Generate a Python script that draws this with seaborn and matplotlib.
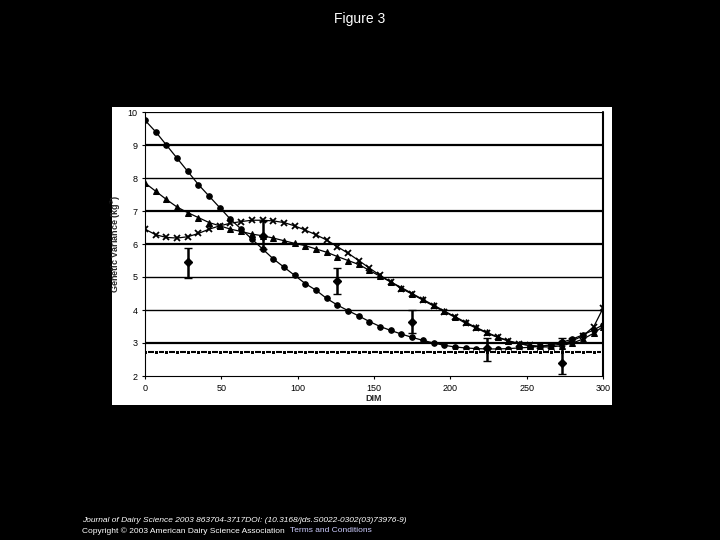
import matplotlib
matplotlib.use("Agg")
import matplotlib.pyplot as plt
import seaborn as sns
import pandas as pd
import numpy as np

dim = [0,7,14,21,28,35,42,49,56,63,70,77,84,91,98,105,112,119,126,133,140,147,154,161,168,175,182,189,196,203,210,217,224,231,238,245,252,259,266,273,280,287,294,300]
circles = [9.75,9.4,9.0,8.6,8.2,7.8,7.45,7.1,6.75,6.45,6.15,5.85,5.55,5.3,5.05,4.8,4.6,4.35,4.15,3.98,3.82,3.65,3.5,3.38,3.27,3.17,3.08,3.0,2.93,2.88,2.85,2.83,2.82,2.82,2.83,2.85,2.87,2.9,2.95,3.02,3.12,3.25,3.4,3.55]
triangles = [7.85,7.6,7.35,7.12,6.95,6.8,6.65,6.55,6.45,6.38,6.3,6.25,6.18,6.1,6.02,5.95,5.85,5.75,5.62,5.5,5.38,5.2,5.02,4.85,4.68,4.5,4.32,4.15,3.97,3.8,3.63,3.47,3.32,3.18,3.07,2.98,2.92,2.88,2.88,2.92,3.0,3.12,3.3,3.5]
crosses = [6.45,6.28,6.2,6.18,6.22,6.32,6.45,6.55,6.63,6.68,6.72,6.72,6.7,6.65,6.55,6.42,6.28,6.12,5.92,5.72,5.5,5.27,5.05,4.85,4.65,4.48,4.3,4.12,3.95,3.78,3.6,3.45,3.3,3.17,3.06,2.98,2.93,2.9,2.92,2.97,3.07,3.22,3.5,4.05]
squares = [2.72]*len(dim)
est_x = [28,77,126,175,224,273]
est_y = [5.45,6.25,4.88,3.65,2.85,2.4]
est_lo = [4.98,5.85,4.48,3.3,2.45,2.05]
est_hi = [5.88,6.7,5.28,4.0,3.15,3.15]

sns.set_style("white")
plt.rcParams['font.family'] = ['Liberation Sans', 'DejaVu Sans']
fig = plt.figure(figsize=(7.2,5.4), dpi=100, facecolor='black')
bg = fig.add_axes([112/720, 1-405/540, 500/720, 298/540], zorder=-5)
bg.set_facecolor('white')
bg.set_xticks([]); bg.set_yticks([])
for s in bg.spines.values():
    s.set_visible(False)
ax = fig.add_axes([145/720, 1-376/540, 458/720, 264/540], zorder=1)
ax.set_facecolor('white')

df = pd.DataFrame({'DIM': dim, 'c': circles, 't': triangles, 'x': crosses, 's': squares})
kw = dict(color='black', linewidth=0.9, markersize=4, markeredgecolor='black', ax=ax)
sns.lineplot(data=df, x='DIM', y='c', marker='o', **kw)
sns.lineplot(data=df, x='DIM', y='t', marker='^', **kw)
sns.lineplot(data=df, x='DIM', y='x', marker='x', markeredgewidth=1.3, **kw)
sns.lineplot(data=df, x='DIM', y='s', marker='s', markersize=3.5, color='black', linewidth=1.5, ax=ax)
yerr = [np.array(est_y)-np.array(est_lo), np.array(est_hi)-np.array(est_y)]
ax.errorbar(est_x, est_y, yerr=yerr, fmt='D', color='black', markersize=4, capsize=3, elinewidth=1.8)

ax.set_xlim(0, 300)
ax.set_ylim(2, 10)
ax.set_xticks([0,50,100,150,200,250,300])
ax.set_yticks(range(2, 11))
for yv in range(3, 11):
    ax.axhline(yv, color='black', linewidth=1.6 if yv in (3,6,7,9,10) else 1.0, zorder=0.5)
ax.tick_params(labelsize=6.5, length=2, colors='black', left=True, bottom=True)
for s in ['top', 'right']:
    ax.spines[s].set_visible(False)
for s in ['left', 'bottom']:
    ax.spines[s].set_color('black')
ax.set_xlabel('DIM', fontsize=6.5, fontweight='bold', labelpad=1)
ax.set_ylabel('Genetic Variance (kg$^2$)', fontsize=6.5, fontweight='bold', labelpad=3)
ax.plot([1.0, 1.0], [0, 1], transform=ax.transAxes, color='black', lw=1.5, clip_on=False)

fig.text(0.5, 1-19/540, 'Figure 3', color='white', ha='center', va='center', fontsize=10)
fig.text(82/720, 1-520/540, 'Journal of Dairy Science 2003 863704-3717DOI: (10.3168/jds.S0022-0302(03)73976-9)',
         color='white', fontsize=6, va='center', style='italic')
fig.text(82/720, 1-531/540, 'Copyright © 2003 American Dairy Science Association', color='white', fontsize=6, va='center')
fig.text(290/720, 1-531/540, 'Terms and Conditions', color='#ccccff', fontsize=6, va='center')
fig.savefig('out.png', dpi=100, facecolor='black')
